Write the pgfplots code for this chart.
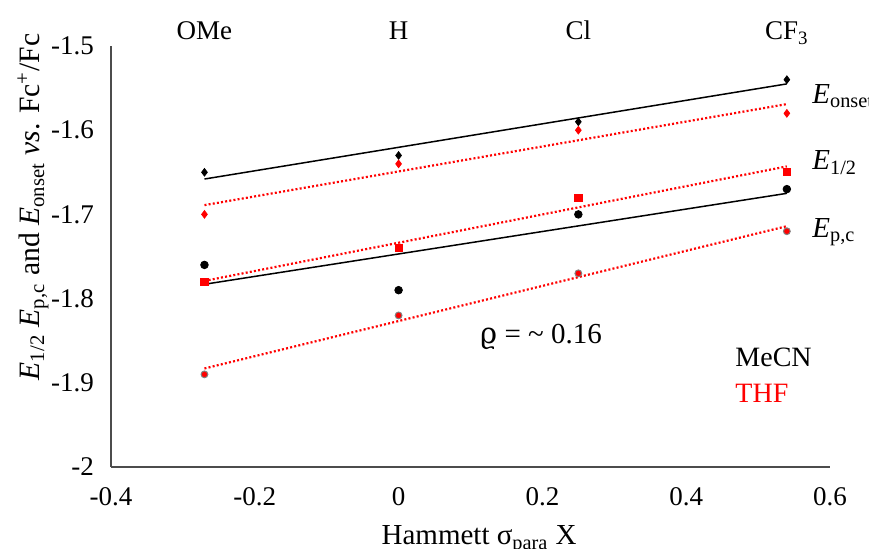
\documentclass[border=0pt]{standalone}
\usepackage{pgfplots}
\pgfplotsset{compat=1.18}
\usepackage{fontspec}
\setmainfont{Liberation Serif}
\newfontfamily\dvs{DejaVu Serif}
\begin{document}
\begin{tikzpicture}[font=\fontsize{13.5}{16}\selectfont]
\begin{axis}[
  scale only axis, width=359.5pt, height=210.5pt,
  xmin=-0.4, xmax=0.6, ymin=-2, ymax=-1.5,
  axis x line=bottom, axis y line=left,
  axis line style={-, line width=0.7pt, black!70},
  xtick={-0.4,-0.2,0,0.2,0.4,0.6},
  ytick={-2,-1.9,-1.8,-1.7,-1.6,-1.5},
  major tick length=0pt,
  /pgf/number format/assume math mode=true,
  tick label style={font=\fontsize{13.5}{16}\selectfont},
  xticklabel style={yshift=-6.5pt},
  yticklabel style={xshift=-5pt},
  clip=false,
  xlabel={Hammett σ\textsubscript{para} X},
  xlabel style={at={(axis description cs:0.512,-0.185)}, anchor=base, font=\fontsize{14.5}{17}\selectfont},
  ylabel={\textit{E}\textsubscript{1/2} \textit{E}\textsubscript{p,c} and \textit{E}\textsubscript{onset} \textit{vs}. Fc\textsuperscript{+}/Fc},
  ylabel style={at={(axis description cs:-0.1085,0.618)}, anchor=center, font=\fontsize{14.8}{17}\selectfont},
]
% trendlines
\addplot[black, line width=0.75pt] coordinates {(-0.27,-1.658) (0.54,-1.545)};
\addplot[black, line width=0.75pt] coordinates {(-0.27,-1.783) (0.54,-1.675)};
\addplot[red, line width=1.1pt, dash pattern=on 1pt off 1.1pt] coordinates {(-0.27,-1.689) (0.54,-1.569)};
\addplot[red, line width=1.1pt, dash pattern=on 1pt off 1.1pt] coordinates {(-0.27,-1.779) (0.54,-1.643)};
\addplot[red, line width=1.1pt, dash pattern=on 1pt off 1.1pt] coordinates {(-0.27,-1.883) (0.54,-1.714)};
% data
\addplot[only marks, mark=diamond*, mark size=1.9pt, black] coordinates {(-0.27,-1.65) (0,-1.63) (0.25,-1.59) (0.54,-1.54)};
\addplot[only marks, mark=diamond*, mark size=1.9pt, red] coordinates {(-0.27,-1.70) (0,-1.64) (0.25,-1.60) (0.54,-1.58)};
\addplot[only marks, mark=square*, mark size=1.8pt, red] coordinates {(-0.27,-1.78) (0,-1.74) (0.25,-1.68) (0.54,-1.65)};
\addplot[only marks, mark=*, mark size=1.9pt, black] coordinates {(-0.27,-1.76) (0,-1.79) (0.25,-1.70) (0.54,-1.67)};
\addplot[only marks, mark=*, mark size=1.7pt, mark options={fill=red, draw=gray, line width=0.5pt}] coordinates {(-0.27,-1.89) (0,-1.82) (0.25,-1.77) (0.54,-1.72)};
% top labels
\node[anchor=base] at (axis cs:-0.27,-1.5) [yshift=3pt] {OMe};
\node[anchor=base] at (axis cs:0,-1.5) [yshift=3pt] {H};
\node[anchor=base] at (axis cs:0.25,-1.5) [yshift=3pt] {Cl};
\node[anchor=base] at (axis cs:0.54,-1.5) [yshift=3pt] {CF\textsubscript{3}};
% series labels
\node[anchor=base west, inner sep=0pt, font=\fontsize{14.5}{16}\selectfont] at (axis cs:0.575,-1.568) {\textit{E}\textsubscript{onset}};
\node[anchor=base west, inner sep=0pt, font=\fontsize{14.5}{16}\selectfont] at (axis cs:0.575,-1.647) {\textit{E}\textsubscript{1/2}};
\node[anchor=base west, inner sep=0pt, font=\fontsize{14.5}{16}\selectfont] at (axis cs:0.575,-1.727) {\textit{E}\textsubscript{p,c}};
\node[anchor=base west, inner sep=0pt, font=\fontsize{14.5}{16}\selectfont] at (axis cs:0.113,-1.853) {{\dvs ϱ} = \textasciitilde{} 0.16};
\node[anchor=base west, inner sep=0pt, font=\fontsize{14}{16}\selectfont] at (axis cs:0.468,-1.881) {MeCN};
\node[anchor=base west, inner sep=0pt, font=\fontsize{14}{16}\selectfont, red] at (axis cs:0.468,-1.924) {THF};
\end{axis}
\pgfresetboundingbox
\path[use as bounding box] (-55.5pt,-41pt) rectangle (379pt,233.5pt);
\end{tikzpicture}
\end{document}
